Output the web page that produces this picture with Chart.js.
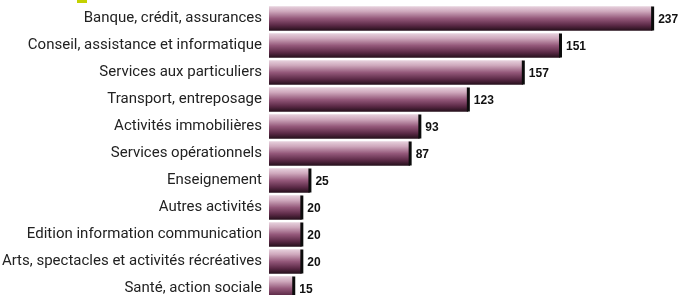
<!DOCTYPE html>
<html>
<head>
<meta charset="utf-8">
<script src="https://cdn.jsdelivr.net/npm/chart.js@4/dist/chart.umd.min.js"></script>
<style>
  html, body { margin:0; padding:0; background:#fff; overflow:hidden; }
  #wrap { position:relative; width:678px; height:295px; overflow:hidden; }
  #mark { position:absolute; left:77px; top:0; width:10px; height:3px; background:#c3d100; }
</style>
</head>
<body>
<div id="wrap">
  <canvas id="chart" width="678" height="305"></canvas>
  <div id="mark"></div>
</div>
<script>
/* categories, top to bottom */
const categories = [
  'Banque, crédit, assurances',
  'Conseil, assistance et informatique',
  'Services aux particuliers',
  'Transport, entreposage',
  'Activités immobilières',
  'Services opérationnels',
  'Enseignement',
  'Autres activités',
  'Edition information communication',
  'Arts, spectacles et activités récréatives',
  'Santé, action sociale',
];

/* bar lengths as drawn (the 2nd bar is drawn longer than its printed label) */
const barValues   = [237, 180, 157, 123, 93, 87, 25, 20, 20, 20, 15];
/* printed value labels */
const valueLabels = ['237', '151', '157', '123', '93', '87', '25', '20', '20', '20', '15'];

const X_MAX = 253;
const EDGE  = 3;

/* vertical gradient per bar, built from the y scale */
function barGradient(c) {
  const chart = c.chart, ys = chart.scales.y;
  if (!ys || c.dataIndex === undefined) return '#74385a';
  const mid = ys.getPixelForValue(c.dataIndex);
  if (!isFinite(mid)) return '#74385a';
  const g = chart.ctx.createLinearGradient(0, mid - 12, 0, mid + 12);
  g.addColorStop(0.00, '#e6d0dc');
  g.addColorStop(0.20, '#cfa9bd');
  g.addColorStop(0.50, '#94587a');
  g.addColorStop(0.78, '#5c2a47');
  g.addColorStop(1.00, '#26101c');
  return g;
}

/* ── black end cap + value text ───────────────────────────── */
const barDecor = {
  id: 'barDecor',
  afterDatasetsDraw(chart) {
    const ctx = chart.ctx;
    ctx.save();
    chart.getDatasetMeta(0).data.forEach((el, i) => {
      const top = el.y - el.height / 2;
      ctx.fillStyle = '#0c0c0c';
      ctx.fillRect(el.x - 1, top, EDGE, el.height);
      ctx.font = 'bold 12px "Liberation Sans", Arial, sans-serif';
      ctx.fillStyle = '#111';
      ctx.textAlign = 'left';
      ctx.textBaseline = 'middle';
      ctx.fillText(valueLabels[i], el.x + EDGE + 3, el.y + 1);
    });
    ctx.restore();
  },
};

new Chart(document.getElementById('chart').getContext('2d'), {
  type: 'bar',
  data: {
    labels: categories,
    datasets: [{
      data: barValues,
      backgroundColor: barGradient,
      borderWidth: 0,
      barThickness: 24,
    }],
  },
  options: {
    indexAxis: 'y',
    responsive: false,
    animation: false,
    layout: { padding: { top: 5, bottom: 3, left: 0, right: 0 } },
    plugins: { legend: { display:false }, tooltip: { enabled:false } },
    scales: {
      x: { display:false, min:0, max:X_MAX },
      y: {
        grid: { display:false, drawTicks:false },
        border: { display:false },
        ticks: {
          color: '#222',
          padding: 7,
          font: { family: 'Roboto, "Open Sans", sans-serif', size: 15 },
        },
        afterFit: s => { s.width = 269; s.paddingTop = 0; s.paddingBottom = 0; },
      },
    },
  },
  plugins: [barDecor],
});
</script>
</body>
</html>
